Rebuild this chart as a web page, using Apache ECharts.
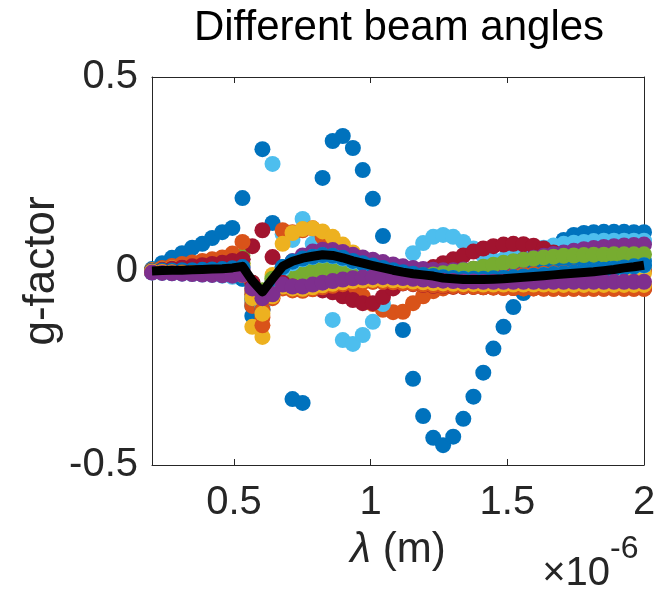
<!DOCTYPE html>
<html>
<head>
<meta charset="utf-8">
<script src="https://cdn.jsdelivr.net/npm/echarts@6/dist/echarts.min.js"></script>
<style>
  html, body { margin: 0; padding: 0; background: #fff; }
  #chart { width: 656px; height: 589px; }
</style>
</head>
<body>
<div id="chart"></div>
<script>
// Wavelength samples, in units of 1e-6 m
const lambda = [0.200,0.237,0.273,0.310,0.347,0.384,0.420,0.457,0.494,0.531,
  0.567,0.604,0.641,0.678,0.714,0.751,0.788,0.824,0.861,0.898,
  0.935,0.971,1.008,1.045,1.082,1.118,1.155,1.192,1.229,1.265,
  1.302,1.339,1.376,1.412,1.449,1.486,1.522,1.559,1.596,1.633,
  1.669,1.706,1.743,1.780,1.816,1.853,1.890,1.927,1.963,2.000];

const xTicks = [0.5, 1, 1.5, 2];

// g-factor for each beam angle
const beam1 = [0.005,0.020,0.034,0.046,0.060,0.070,0.085,0.100,0.111,0.188,
  -0.116,0.314,0.124,0.010,-0.330,-0.340,0.000,0.240,0.335,0.348,
  0.317,0.260,0.186,0.090,-0.030,-0.152,-0.278,-0.374,-0.430,-0.449,
  -0.427,-0.381,-0.324,-0.262,-0.200,-0.144,-0.093,-0.057,-0.020,0.020,
  0.055,0.080,0.093,0.098,0.100,0.101,0.101,0.101,0.100,0.100];
const beam2 = [0.000,0.000,-0.001,-0.002,-0.003,-0.004,-0.005,-0.006,-0.008,-0.010,
  -0.080,-0.120,-0.050,-0.010,0.000,-0.005,-0.015,-0.025,-0.032,-0.040,
  -0.050,-0.065,-0.085,-0.100,-0.106,-0.105,-0.083,-0.065,-0.052,-0.045,
  -0.041,-0.040,-0.040,-0.041,-0.042,-0.043,-0.044,-0.045,-0.045,-0.046,
  -0.046,-0.046,-0.046,-0.046,-0.046,-0.046,-0.046,-0.046,-0.046,-0.046];
const beam3 = [0.000,0.002,0.004,0.005,0.006,0.007,0.008,0.009,0.012,0.015,
  -0.144,-0.170,-0.030,0.000,0.010,0.015,0.018,0.018,0.015,0.010,
  0.004,-0.002,-0.008,-0.014,-0.019,-0.023,-0.026,-0.029,-0.031,-0.033,
  -0.034,-0.035,-0.035,-0.036,-0.036,-0.037,-0.037,-0.038,-0.038,-0.038,
  -0.039,-0.039,-0.039,-0.040,-0.040,-0.040,-0.040,-0.040,-0.040,-0.040];
const beam4 = [-0.002,-0.002,-0.002,-0.001,-0.001,0.000,0.000,0.001,0.002,0.004,
  -0.050,-0.080,-0.045,-0.005,0.012,0.022,0.028,0.032,0.031,0.026,
  0.020,0.014,0.008,0.003,-0.002,-0.006,-0.010,-0.013,-0.016,-0.018,
  -0.020,-0.021,-0.022,-0.022,-0.022,-0.021,-0.020,-0.019,-0.018,-0.017,
  -0.016,-0.015,-0.014,-0.012,-0.010,-0.008,-0.006,-0.004,-0.002,0.000];
const beam5 = [0.000,0.003,0.006,0.009,0.012,0.015,0.018,0.022,0.030,0.040,
  -0.040,-0.050,-0.020,0.000,0.010,0.018,0.022,0.024,0.022,0.018,
  0.013,0.008,0.004,0.000,-0.004,-0.007,-0.010,-0.012,-0.013,-0.014,
  -0.014,-0.014,-0.013,-0.012,-0.011,-0.010,-0.009,-0.008,-0.007,-0.006,
  -0.005,-0.004,-0.003,-0.002,-0.001,0.000,0.002,0.004,0.006,0.008];
const beam6 = [-0.004,-0.005,-0.006,-0.007,-0.008,-0.009,-0.010,-0.012,-0.015,-0.020,
  -0.075,-0.100,0.276,0.095,0.080,0.134,0.070,-0.020,-0.126,-0.178,
  -0.188,-0.165,-0.131,-0.085,-0.040,0.000,0.046,0.072,0.088,0.093,
  0.088,0.075,0.058,0.040,0.028,0.030,0.038,0.046,0.053,0.060,
  0.066,0.070,0.073,0.075,0.077,0.078,0.078,0.078,0.078,0.078];
const beam7 = [0.001,0.006,0.011,0.015,0.019,0.023,0.027,0.031,0.038,0.030,
  0.064,0.105,0.036,0.005,-0.020,-0.040,-0.045,-0.050,-0.055,-0.065,
  -0.075,-0.083,-0.083,-0.067,-0.045,-0.025,-0.010,0.000,0.010,0.020,
  0.030,0.040,0.050,0.058,0.064,0.068,0.070,0.069,0.065,0.058,
  0.048,0.035,0.020,0.005,-0.010,-0.020,-0.030,-0.035,-0.040,-0.042];
const beam8 = [-0.002,-0.002,-0.002,-0.003,-0.003,-0.004,-0.005,-0.007,-0.010,-0.020,
  -0.090,-0.085,-0.030,0.005,0.025,0.035,0.042,0.045,0.043,0.038,
  0.030,0.022,0.015,0.008,0.002,-0.003,-0.007,-0.010,-0.012,-0.014,
  -0.015,-0.016,-0.016,-0.015,-0.013,-0.011,-0.008,-0.005,-0.002,0.001,
  0.004,0.007,0.010,0.013,0.016,0.019,0.021,0.023,0.025,0.026];
const beam9 = [0.002,0.008,0.013,0.018,0.022,0.026,0.030,0.035,0.045,0.075,
  -0.090,-0.140,-0.040,0.105,0.100,0.105,0.110,0.088,0.062,0.042,
  0.030,0.022,0.015,0.008,0.002,-0.002,-0.005,-0.008,-0.010,-0.012,
  -0.013,-0.014,-0.014,-0.013,-0.012,-0.011,-0.010,-0.009,-0.008,-0.007,
  -0.006,-0.005,-0.004,-0.003,-0.002,-0.001,0.000,0.001,0.002,0.003];
const beam10 = [0.001,0.004,0.007,0.009,0.011,0.013,0.015,0.017,0.020,0.020,
  -0.050,-0.080,-0.010,0.070,0.098,0.108,0.110,0.102,0.088,0.068,
  0.048,0.032,0.018,0.006,-0.004,-0.010,-0.014,-0.017,-0.019,-0.021,
  -0.022,-0.022,-0.022,-0.022,-0.021,-0.020,-0.019,-0.018,-0.017,-0.016,
  -0.015,-0.014,-0.013,-0.012,-0.011,-0.010,-0.009,-0.008,-0.007,-0.006];
const beam11 = [-0.003,-0.003,-0.002,-0.002,-0.001,0.000,0.001,0.002,0.004,0.008,
  -0.030,-0.060,-0.040,-0.005,0.025,0.040,0.050,0.055,0.054,0.049,
  0.042,0.035,0.029,0.023,0.017,0.012,0.008,0.005,0.003,0.002,
  0.002,0.004,0.006,0.009,0.013,0.018,0.023,0.029,0.034,0.039,
  0.044,0.048,0.052,0.056,0.059,0.062,0.064,0.066,0.067,0.068];
const beam12 = [0.000,0.001,0.002,0.003,0.004,0.005,0.006,0.008,0.012,0.020,
  -0.030,-0.050,-0.020,-0.008,-0.012,-0.010,-0.006,-0.002,0.000,0.001,
  0.000,-0.002,-0.004,-0.006,-0.008,-0.010,-0.011,-0.011,-0.009,-0.006,
  -0.002,0.002,0.006,0.011,0.016,0.021,0.025,0.029,0.032,0.035,
  0.037,0.039,0.040,0.041,0.042,0.042,0.043,0.043,0.043,0.043];
const beam13 = [-0.002,-0.003,-0.004,-0.004,-0.005,-0.005,-0.006,-0.007,-0.008,-0.010,
  -0.060,-0.090,-0.050,0.005,0.020,0.030,0.036,0.040,0.038,0.032,
  0.024,0.018,0.012,0.006,0.000,-0.005,-0.009,-0.012,-0.015,-0.017,
  -0.019,-0.020,-0.021,-0.021,-0.020,-0.019,-0.017,-0.015,-0.013,-0.011,
  -0.009,-0.007,-0.005,-0.003,-0.001,0.002,0.005,0.008,0.011,0.014];
const beam14 = [0.000,0.003,0.006,0.009,0.012,0.015,0.018,0.021,0.026,0.030,
  -0.030,-0.060,-0.040,-0.030,-0.040,-0.045,-0.042,-0.038,-0.034,-0.030,
  -0.028,-0.027,-0.027,-0.028,-0.030,-0.032,-0.034,-0.036,-0.038,-0.039,
  -0.040,-0.041,-0.041,-0.042,-0.042,-0.042,-0.043,-0.043,-0.043,-0.043,
  -0.043,-0.043,-0.043,-0.043,-0.043,-0.043,-0.043,-0.043,-0.043,-0.043];
const beam15 = [0.000,0.001,0.001,0.002,0.002,0.003,0.004,0.005,0.007,0.010,
  -0.070,-0.100,-0.040,0.010,0.024,0.032,0.037,0.041,0.039,0.034,
  0.026,0.020,0.014,0.008,0.002,-0.003,-0.007,-0.010,-0.013,-0.016,
  -0.018,-0.020,-0.020,-0.020,-0.019,-0.018,-0.016,-0.014,-0.012,-0.010,
  -0.008,-0.006,-0.004,-0.002,0.000,0.003,0.006,0.009,0.012,0.015];
const beam16 = [-0.001,-0.002,-0.003,-0.004,-0.005,-0.006,-0.007,-0.008,-0.009,-0.010,
  -0.060,-0.100,-0.070,-0.045,-0.050,-0.051,-0.047,-0.042,-0.038,-0.034,
  -0.031,-0.029,-0.028,-0.028,-0.029,-0.031,-0.033,-0.035,-0.037,-0.038,
  -0.039,-0.040,-0.041,-0.042,-0.043,-0.044,-0.044,-0.045,-0.045,-0.045,
  -0.046,-0.046,-0.046,-0.046,-0.046,-0.046,-0.046,-0.046,-0.046,-0.046];
const beam17 = [-0.002,-0.003,-0.004,-0.005,-0.006,-0.007,-0.008,-0.009,-0.010,-0.010,
  -0.070,-0.110,-0.065,-0.040,-0.045,-0.046,-0.042,-0.037,-0.033,-0.029,
  -0.026,-0.024,-0.023,-0.023,-0.024,-0.025,-0.027,-0.029,-0.031,-0.032,
  -0.033,-0.034,-0.034,-0.035,-0.035,-0.035,-0.035,-0.035,-0.035,-0.035,
  -0.036,-0.036,-0.036,-0.036,-0.036,-0.036,-0.036,-0.036,-0.036,-0.036];
const beam18 = [-0.004,-0.005,-0.006,-0.007,-0.008,-0.009,-0.010,-0.011,-0.012,-0.010,
  -0.045,-0.070,-0.060,-0.035,-0.040,-0.040,-0.035,-0.030,-0.026,-0.022,
  -0.019,-0.017,-0.016,-0.016,-0.017,-0.018,-0.020,-0.022,-0.024,-0.025,
  -0.026,-0.027,-0.027,-0.028,-0.028,-0.028,-0.028,-0.028,-0.028,-0.028,
  -0.028,-0.028,-0.028,-0.028,-0.028,-0.028,-0.028,-0.028,-0.028,-0.028];

// Average over all beam angles
const gMean = [0.000,0.001,0.002,0.002,0.003,0.004,0.005,0.006,0.008,0.012,
  -0.025,-0.054,-0.020,0.012,0.025,0.033,0.038,0.042,0.040,0.034,
  0.026,0.020,0.014,0.008,0.002,-0.003,-0.007,-0.010,-0.013,-0.018,
  -0.020,-0.022,-0.022,-0.022,-0.021,-0.020,-0.018,-0.016,-0.014,-0.012,
  -0.010,-0.008,-0.006,-0.004,-0.002,0.001,0.004,0.008,0.011,0.015];

const beams = [beam1, beam2, beam3, beam4, beam5, beam6, beam7, beam8, beam9,
  beam10, beam11, beam12, beam13, beam14, beam15, beam16, beam17, beam18];

// MATLAB default colour order, cycled per beam angle
const palette = ['#0072BD','#D95319','#EDB120','#7E2F8E','#77AC30','#4DBEEE','#A2142F'];
const FONT = '"Liberation Sans", Arial, Helvetica, sans-serif';
const INK = '#262626';

const series = beams.map((vals, k) => ({
  type: 'scatter',
  data: lambda.map((x, i) => [x, vals[i]]),
  symbol: 'circle',
  symbolSize: 16,
  itemStyle: { color: palette[k % palette.length], opacity: 1 },
  clip: false,
  silent: true,
  z: 2
}));
series.push({
  type: 'line',
  data: lambda.map((x, i) => [x, gMean[i]]),
  symbol: 'none',
  lineStyle: { color: '#000', width: 9, cap: 'butt', join: 'round' },
  clip: false,
  silent: true,
  z: 3
});

const axisLine = { show: true, onZero: false, lineStyle: { color: INK, width: 1 } };
const tickStyle = { color: INK, width: 1 };

const chart = echarts.init(document.getElementById('chart'), null, { renderer: 'canvas' });
chart.setOption({
  animation: false,
  backgroundColor: '#fff',
  grid: { left: 152, right: 12, top: 77, bottom: 124, containLabel: false, outerBoundsMode: 'none' },
  xAxis: [
    {
      type: 'value', min: 0.2, max: 2, position: 'bottom',
      axisLine: axisLine,
      axisTick: { show: true, inside: true, length: 6, customValues: xTicks, lineStyle: tickStyle },
      axisLabel: { customValues: xTicks, fontSize: 40, color: INK, margin: 18, fontFamily: FONT },
      splitLine: { show: false }
    },
    {
      type: 'value', min: 0.2, max: 2, position: 'top',
      axisLine: axisLine,
      axisTick: { show: true, inside: true, length: 6, customValues: xTicks, lineStyle: tickStyle },
      axisLabel: { show: false },
      splitLine: { show: false }
    }
  ],
  yAxis: [
    {
      type: 'value', min: -0.5, max: 0.5, interval: 0.5, position: 'left',
      axisLine: axisLine,
      axisTick: { show: true, inside: true, length: 6, lineStyle: tickStyle },
      axisLabel: { fontSize: 40, color: INK, margin: 14, fontFamily: FONT },
      splitLine: { show: false }
    },
    {
      type: 'value', min: -0.5, max: 0.5, interval: 0.5, position: 'right',
      axisLine: axisLine,
      axisTick: { show: true, inside: true, length: 6, lineStyle: tickStyle },
      axisLabel: { show: false },
      splitLine: { show: false }
    }
  ],
  series: series,
  graphic: [
    {
      type: 'text', silent: true, position: [399, 28],
      style: { text: 'Different beam angles', align: 'center', verticalAlign: 'middle',
               font: '42px ' + FONT, fill: '#000' }
    },
    {
      type: 'text', silent: true, position: [42, 271], rotation: Math.PI / 2,
      style: { text: 'g-factor', align: 'center', verticalAlign: 'middle',
               font: '44px ' + FONT, fill: INK }
    },
    {
      type: 'text', silent: true, position: [398, 550],
      style: {
        text: '{i|λ} (m)', align: 'center', verticalAlign: 'middle',
        font: '42px ' + FONT, fill: INK,
        rich: { i: { fontStyle: 'italic', fontSize: 42, fontFamily: FONT, fill: INK } }
      }
    },
    {
      type: 'text', silent: true, position: [610, 574],
      style: { text: '×10', align: 'right', verticalAlign: 'middle',
               font: '40px ' + FONT, fill: INK }
    },
    {
      type: 'text', silent: true, position: [610, 549],
      style: { text: '-6', align: 'left', verticalAlign: 'middle',
               font: '32px ' + FONT, fill: INK }
    }
  ]
});
</script>
</body>
</html>
